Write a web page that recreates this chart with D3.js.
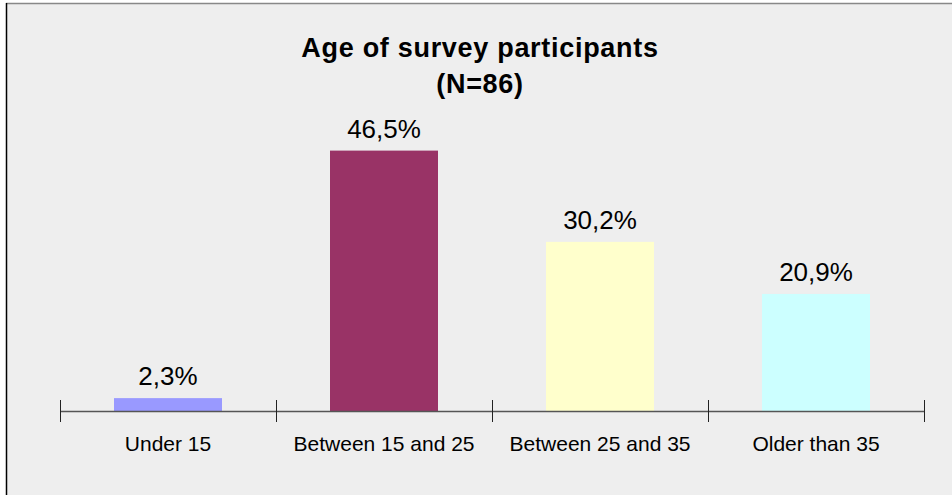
<!DOCTYPE html>
<html>
<head>
<meta charset="utf-8">
<script src="https://cdn.jsdelivr.net/npm/d3@7"></script>
<style>
  html, body { margin: 0; padding: 0; background: #ffffff; }
  svg { display: block; font-family: "Liberation Sans", Arial, sans-serif; }
</style>
</head>
<body>
<svg id="chart" width="952" height="495"></svg>
<script>
// Age groups and their share of respondents (percent)
const categories = ["Under 15", "Between 15 and 25", "Between 25 and 35", "Older than 35"];
const values = [2.3, 46.5, 30.2, 20.9];
const valueLabels = ["2,3%", "46,5%", "30,2%", "20,9%"];
const barColors = ["#9999ff", "#993366", "#ffffcc", "#ccffff"];
const titleLines = ["Age of survey participants", "(N=86)"];

const svg = d3.select("#chart");
const W = 952, H = 495;

// panel background with a thin frame on the top and left edges
svg.append("rect").attr("x", 6).attr("y", 3).attr("width", W - 6).attr("height", H - 3)
  .attr("fill", "#eeeeee");
svg.append("line").attr("x1", 6).attr("x2", W).attr("y1", 3.5).attr("y2", 3.5)
  .attr("stroke", "#888888").attr("stroke-width", 1.5);
svg.append("line").attr("x1", 6.5).attr("x2", 6.5).attr("y1", 3).attr("y2", H)
  .attr("stroke", "#000000").attr("stroke-width", 1.5);

const plot = { left: 60, right: 924, top: 131, bottom: 411 };

const x = d3.scaleBand().domain(categories)
  .range([plot.left, plot.right]).paddingInner(0.5).paddingOuter(0.25);
const y = d3.scaleLinear().domain([0, 50]).range([plot.bottom, plot.top]);

// bars
svg.append("g").selectAll("rect").data(values).join("rect")
  .attr("x", (d, i) => x(categories[i]))
  .attr("y", d => y(d))
  .attr("width", x.bandwidth())
  .attr("height", d => y(0) - y(d))
  .attr("fill", (d, i) => barColors[i]);

// category axis along the baseline
const xAxis = d3.axisBottom(x).tickSize(0).tickPadding(0);
const ax = svg.append("g").attr("transform", `translate(0,${plot.bottom})`).call(xAxis);
ax.select(".domain").remove();
ax.append("line").attr("x1", plot.left).attr("x2", plot.right)
  .attr("y1", 0.5).attr("y2", 0.5).attr("stroke", "#555555").attr("stroke-width", 1.5);
ax.selectAll(".tick text")
  .attr("y", 40).attr("dy", 0)
  .attr("fill", "#000").attr("font-size", 21)
  .attr("font-family", "'Liberation Sans', Arial, sans-serif");

// tick marks at the boundaries between categories
const step = x.step();
const boundaries = d3.range(categories.length + 1).map(i => plot.left + i * step);
ax.selectAll(".bound").data(boundaries).join("line")
  .attr("class", "bound")
  .attr("x1", d => Math.round(d) + 0.5).attr("x2", d => Math.round(d) + 0.5)
  .attr("y1", -11).attr("y2", 11)
  .attr("stroke", "#222222").attr("stroke-width", 1);

// value labels above each bar
svg.append("g").selectAll("text").data(values).join("text")
  .attr("x", (d, i) => x(categories[i]) + x.bandwidth() / 2)
  .attr("y", d => y(d) - 13)
  .attr("text-anchor", "middle")
  .attr("font-size", 26)
  .attr("fill", "#000")
  .text((d, i) => valueLabels[i]);

// title
const title = svg.append("text").attr("text-anchor", "middle")
  .attr("font-size", 27).attr("font-weight", "bold").attr("fill", "#000")
  .attr("letter-spacing", 0.7);
title.selectAll("tspan").data(titleLines).join("tspan")
  .attr("x", 480).attr("y", (d, i) => 57 + i * 36)
  .text(d => d);
</script>
</body>
</html>
